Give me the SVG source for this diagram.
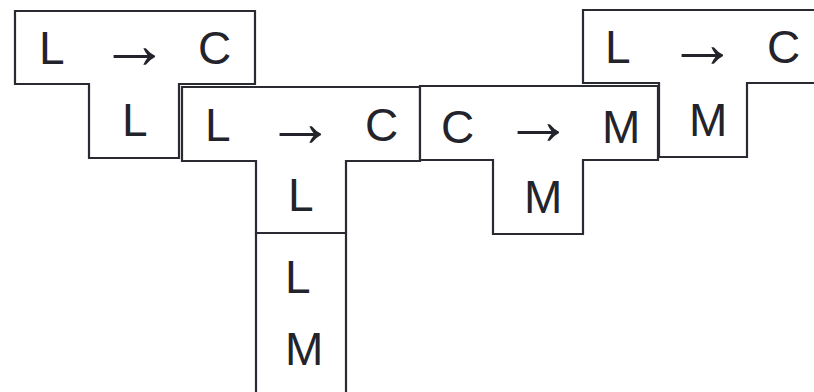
<svg xmlns="http://www.w3.org/2000/svg" width="814" height="392" viewBox="0 0 814 392">
<style>
.t{fill:#fff;stroke:#2a2a32;stroke-width:2.2;stroke-linejoin:miter}
text{font-family:"Liberation Sans","DejaVu Sans",sans-serif;font-size:46px;fill:#23232b}
.a{text-anchor:middle;font-size:70px}
</style>
<rect width="814" height="392" fill="#fff"/>
<g id="t1">
<path class="t" d="M15,11 H255 V84 H179 V158 H89 V84 H15 Z"/>
<text x="39" y="64">L</text>
<text class="a" x="134.5" y="68">→</text>
<text x="198" y="64">C</text>
<text x="122" y="136">L</text>
</g>
<g id="t2">
<path class="t" d="M182,87 H420 V161 H346 V233 H256 V161 H182 Z"/>
<text x="205" y="141">L</text>
<text class="a" x="300.5" y="146">→</text>
<text x="365" y="141">C</text>
<text x="288" y="211">L</text>
</g>
<g id="t3">
<path class="t" d="M420,86 H658 V160 H583 V234 H493 V160 H420 Z"/>
<text x="441" y="143">C</text>
<text class="a" x="538.5" y="144">→</text>
<text x="602" y="143">M</text>
<text x="524" y="213">M</text>
</g>
<g id="t4">
<path class="t" d="M583,10 H823 V83 H747 V157 H659 V83 H583 Z"/>
<text x="605" y="63">L</text>
<text class="a" x="702.5" y="67">→</text>
<text x="767" y="63">C</text>
<text x="689" y="136">M</text>
</g>
<g id="m">
<path class="t" d="M256,233 V400 M346,233 V400 M256,233 H346"/>
<text x="285" y="293">L</text>
<text x="285" y="365">M</text>
</g>
<g id="connectors"/>
</svg>
